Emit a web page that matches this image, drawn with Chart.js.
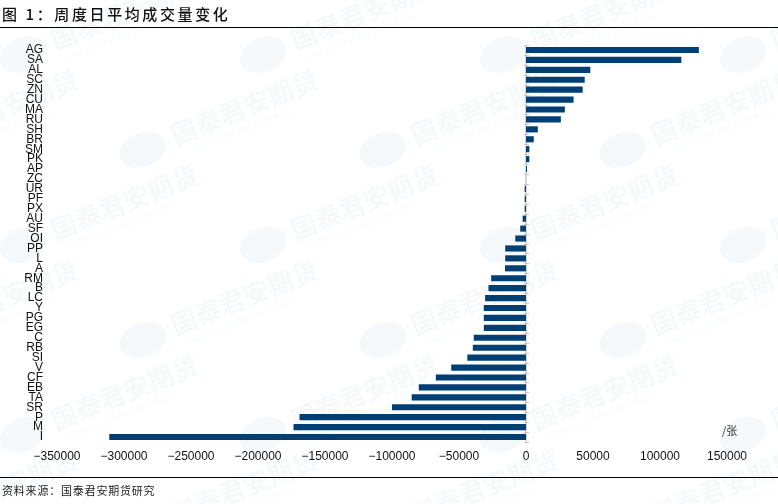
<!DOCTYPE html>
<html>
<head>
<meta charset="utf-8">
<script src="https://cdn.jsdelivr.net/npm/chart.js@4/dist/chart.umd.min.js"></script>
<style>
  html, body { margin: 0; padding: 0; background: #fff; }
  #wrap { position: relative; width: 778px; height: 504px; overflow: hidden; }
  #chart { position: absolute; left: 0; top: 0; }
  .title {
    position: absolute; left: 2px; top: 3px;
    font: 500 15px "Noto Sans CJK SC", sans-serif; letter-spacing: 2.6px; color: #111;
  }
  .rule { position: absolute; left: 0; width: 778px; height: 1px; background: #000; }
  .source {
    position: absolute; left: 2px; top: 482px;
    font: 11px "Noto Sans CJK SC", sans-serif; letter-spacing: 0.8px; color: #222;
  }
  .unit {
    position: absolute; left: 722px; top: 422px;
    font: 11px "Noto Sans CJK SC", sans-serif; color: #333;
  }
</style>
</head>
<body>
<div id="wrap">
  <canvas id="chart" width="778" height="504"></canvas>
  <div class="title">图 1：周度日平均成交量变化</div>
  <div class="rule" style="top:27px"></div>
  <div class="rule" style="top:477px"></div>
  <div class="source">资料来源：国泰君安期货研究</div>
  <div class="unit">/张</div>
</div>
<script>
// ---------------- data ----------------
const categories = ["AG", "SA", "AL", "SC", "ZN", "CU", "MA", "RU", "SH", "BR",
    "SM", "PK", "AP", "ZC", "UR", "PF", "PX", "AU", "SF", "OI",
    "PP", "L", "A", "RM", "B", "LC", "Y", "PG", "EG", "C",
    "RB", "SI", "V", "CF", "EB", "TA", "SR", "P", "M", "I"];

const volumeChange = [129000, 115900, 48000, 43800, 42300, 35500, 29000, 26000, 8800, 5800,
    2500, 2500, 700, 0, -1000, -1000, -1000, -2500, -4300, -8000,
    -15500, -15500, -15700, -26000, -28000, -30500, -31500, -31500, -31500, -39000,
    -39700, -43800, -55800, -67300, -80000, -85300, -100000, -169000, -173500, -311000];

const xMin = -350000;
const xMax = 150000;
const xStep = 50000;

// ---------------- watermark (decoration only) ----------------
const watermark = {
    id: "watermark",
    beforeDraw(chart) {
        const ctx = chart.ctx;
        ctx.save();
        for (let row = -1; row < 6; row++) {
            for (let col = -1; col < 5; col++) {
                const cx = col * 240 + (row % 2) * 120 + 60;
                const cy = row * 95 + 40;
                ctx.save();
                ctx.translate(cx, cy);
                ctx.rotate(-0.38);
                ctx.fillStyle = "rgba(90,140,190,0.055)";
                ctx.beginPath();
                ctx.ellipse(-40, 0, 24, 17, 0, 0, Math.PI * 2);
                ctx.fill();
                ctx.font = "bold 26px 'Noto Sans CJK SC'";
                ctx.fillText("国泰君安期货", -8, 8);
                ctx.font = "9px 'DejaVu Sans'";
                ctx.fillText("GUOTAI JUNAN FUTURES", 2, 22);
                ctx.restore();
            }
        }
        ctx.restore();
    },
};

// ---------------- zero axis with small ticks ----------------
const zeroAxis = {
    id: "zeroAxis",
    beforeDatasetsDraw(chart) {
        const { ctx, chartArea, scales } = chart;
        const x0 = scales.x.getPixelForValue(0);
        ctx.save();
        ctx.strokeStyle = "#c8c8c8";
        ctx.lineWidth = 1.5;
        ctx.beginPath();
        ctx.moveTo(x0, chartArea.top);
        ctx.lineTo(x0, chartArea.bottom);
        ctx.stroke();
        ctx.lineWidth = 1;
        const step = (chartArea.bottom - chartArea.top) / categories.length;
        for (let i = 0; i <= categories.length; i++) {
            const y = Math.round(chartArea.top + i * step) + 0.5;
            ctx.beginPath();
            ctx.moveTo(x0 - 2, y);
            ctx.lineTo(x0 + 3, y);
            ctx.stroke();
        }
        ctx.restore();
    },
};

new Chart(document.getElementById("chart"), {
    type: "bar",
    data: {
        labels: categories,
        datasets: [{
            data: volumeChange,
            backgroundColor: "#003f74",
            borderWidth: 0,
            barPercentage: 0.62,
            categoryPercentage: 1,
        }],
    },
    options: {
        indexAxis: "y",
        responsive: false,
        animation: false,
        layout: { padding: { top: 45, right: 51, bottom: 0, left: 0 } },
        plugins: {
            legend: { display: false },
            tooltip: { enabled: false },
        },
        scales: {
            x: {
                min: xMin,
                max: xMax,
                grid: { display: false, drawTicks: false },
                border: { display: false },
                ticks: {
                    stepSize: xStep,
                    padding: 7,
                    color: "#111",
                    font: { family: "'Liberation Sans', Arial, sans-serif", size: 12 },
                    maxRotation: 0,
                    callback: (v) => String(v).replace("-", "\u2212"),
                },
                afterFit: (s) => { s.height = 62; },
            },
            y: {
                grid: { display: false, drawTicks: false },
                border: { display: false },
                ticks: {
                    autoSkip: false,
                    padding: 14,
                    color: "#111",
                    font: { family: "'Liberation Sans Narrow', 'Arial Narrow', sans-serif", size: 12 },
                },
                afterFit: (s) => { s.width = 57; },
            },
        },
    },
    plugins: [watermark, zeroAxis],
});
</script>
</body>
</html>
